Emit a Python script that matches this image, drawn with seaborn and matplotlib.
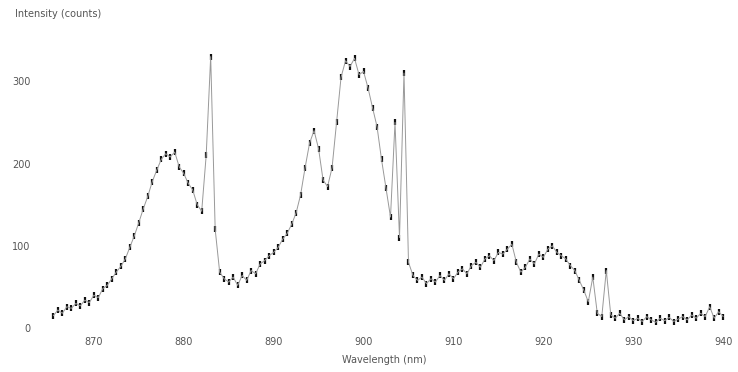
import numpy as np
import pandas as pd
import seaborn as sns
import matplotlib.pyplot as plt

sns.set_style("white")

# spectrum (nm, counts)
wavelength = [865.5, 866, 866.5, 867, 867.5, 868, 868.5, 869, 869.5, 870,
              870.5, 871, 871.5, 872, 872.5, 873, 873.5, 874, 874.5, 875,
              875.5, 876, 876.5, 877, 877.5, 878, 878.5, 879, 879.5, 880,
              880.5, 881, 881.5, 882, 882.5, 883, 883.5, 884, 884.5, 885,
              885.5, 886, 886.5, 887, 887.5, 888, 888.5, 889, 889.5, 890,
              890.5, 891, 891.5, 892, 892.5, 893, 893.5, 894, 894.5, 895,
              895.5, 896, 896.5, 897, 897.5, 898, 898.5, 899, 899.5, 900,
              900.5, 901, 901.5, 902, 902.5, 903, 903.5, 904, 904.5, 905,
              905.5, 906, 906.5, 907, 907.5, 908, 908.5, 909, 909.5, 910,
              910.5, 911, 911.5, 912, 912.5, 913, 913.5, 914, 914.5, 915,
              915.5, 916, 916.5, 917, 917.5, 918, 918.5, 919, 919.5, 920,
              920.5, 921, 921.5, 922, 922.5, 923, 923.5, 924, 924.5, 925,
              925.5, 926, 926.5, 927, 927.5, 928, 928.5, 929, 929.5, 930,
              930.5, 931, 931.5, 932, 932.5, 933, 933.5, 934, 934.5, 935,
              935.5, 936, 936.5, 937, 937.5, 938, 938.5, 939, 939.5, 940]
counts = [15, 22, 18, 26, 24, 30, 27, 34, 31, 40,
          37, 48, 52, 60, 68, 75, 84, 98, 112, 128,
          145, 160, 178, 192, 205, 212, 208, 214, 196, 188,
          176, 168, 150, 142, 210, 330, 120, 68, 60, 56,
          62, 52, 64, 58, 70, 66, 78, 82, 88, 92,
          98, 108, 115, 126, 140, 162, 195, 225, 240, 218,
          180, 172, 195, 250, 305, 325, 318, 328, 308, 312,
          292, 268, 245, 205, 170, 135, 250, 110, 310, 80,
          64, 58, 62, 54, 60, 56, 64, 58, 66, 60,
          68, 72, 66, 76, 80, 74, 84, 88, 82, 92,
          90, 96, 102, 80, 68, 74, 84, 78, 90, 86,
          96, 100, 92, 88, 84, 76, 70, 58, 46, 32,
          62, 18, 14, 70, 16, 12, 18, 10, 14, 9,
          12, 8, 14, 10, 7, 12, 9, 13, 8, 11,
          14, 10, 16, 12, 18, 14, 26, 12, 20, 14]

df = pd.DataFrame({"wl": wavelength, "cts": counts})

xticks = [870, 880, 890, 900, 910, 920, 930, 940]
yticks = [0, 100, 200, 300]

fig = plt.figure(figsize=(7.38, 3.72), dpi=100)
ax = fig.add_axes([0.054, 0.118, 0.932, 0.774])

sns.lineplot(data=df, x="wl", y="cts", ax=ax, color="#999999", lw=0.7)
sns.scatterplot(data=df, x="wl", y="cts", ax=ax, color="#111111", s=14,
                marker="|", linewidth=1.6)

ax.set_xlim(864, 940.5)
ax.set_ylim(0, 350)
ax.set_xticks(xticks)
ax.set_yticks(yticks)
ax.tick_params(colors="#cccccc", labelcolor="#555555", labelsize=7,
               length=3, direction="out")
ax.set_xlabel("Wavelength (nm)", fontsize=7, color="#555555", labelpad=6)
ax.set_ylabel("")
fig.text(0.02, 0.955, "Intensity (counts)", fontsize=7, color="#555555")
sns.despine(ax=ax, left=True, bottom=True, top=True, right=True)

fig.savefig("out.png", dpi=100)
